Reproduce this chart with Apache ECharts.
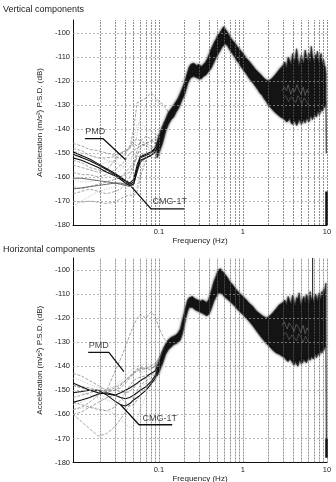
<!DOCTYPE html>
<html><head><meta charset="utf-8">
<script src="https://cdn.jsdelivr.net/npm/echarts@6/dist/echarts.min.js"></script>
<style>html,body{margin:0;padding:0;background:#fff}#c{width:336px;height:482px}</style>
</head><body><div id="c"></div>
<script>
// ---------- axes / ticks ----------
const xLabels = [0.1, 1, 10];
const xGrid = [0.02,0.03,0.04,0.05,0.06,0.07,0.08,0.09,0.1,0.2,0.3,0.4,0.5,0.6,0.7,0.8,0.9,1,2,3,4,5,6,7,8,9,10];
const yGrid = [-100,-110,-120,-130,-140,-150,-160,-170];

// ---------- dense band (all sensors), vertical ----------
const vBandF  = [0.095,0.1,0.11,0.12,0.13,0.14,0.15,0.16,0.17,0.18,0.19,0.2,0.21,0.22,0.23,0.24,0.26,0.28,0.3,0.32,0.34,0.36,0.38,0.4,0.42,0.44,0.46,0.48,0.5,0.53,0.56,0.59,0.62,0.65,0.7,0.75,0.8,0.85,0.9,0.95,1.0,1.1,1.2,1.3,1.4,1.5,1.6,1.7,1.8,1.9,2.0,2.2,2.4,2.6,2.8,
  3.0,3.15,3.3,3.45,3.6,3.75,3.9,4.05,4.2,4.35,4.5,4.65,4.8,4.95,5.1,5.3,5.5,5.7,5.9,6.1,6.3,6.5,6.7,6.9,7.1,7.3,7.5,7.7,7.9,8.1,8.3,8.5,8.7,8.9,9.1,9.3,9.5,9.7];
const vBandUp = [-146,-143,-139,-136,-133,-131.5,-130,-128.5,-127,-125,-123,-121,-118.5,-116,-114,-113,-112.5,-113.5,-113,-114,-113,-112,-110.5,-108.5,-106.5,-105,-103.5,-102.5,-101,-100,-98.5,-97.3,-98.5,-99.5,-101.5,-103,-104,-105.5,-106.5,-107.5,-108.5,-110.5,-112,-113.5,-115,-116,-117,-118,-119,-119.5,-120,-119,-117.5,-116,-114.5,
  -113.5,-112,-114.5,-110,-111.5,-113,-108.5,-112,-110.5,-106.5,-111,-113.5,-112,-109,-111.5,-112.5,-107,-110,-111.5,-108.5,-112,-105.5,-109.5,-111,-112.5,-109,-110,-107.5,-111.5,-112.5,-110,-108.5,-112,-113,-111,-113.5,-114,-117];
const vBandLo = [-152,-150,-146,-141,-138,-136,-135,-133,-131.5,-129.5,-127.5,-126,-123.5,-121,-119.5,-118.5,-118,-118.5,-119,-119,-118,-117.5,-116.5,-115.5,-114.5,-113,-111.5,-110,-109,-107.5,-106,-105,-104.5,-105,-107,-108.5,-110,-111.5,-112.5,-114,-115,-117,-119,-120.5,-122,-123.5,-125,-126,-127.5,-128.5,-130,-131.5,-133,-134,-135,
  -135.5,-136,-137,-136.5,-135.5,-137.5,-138,-136.5,-137,-138.5,-137.5,-136,-136.5,-138,-137,-136,-137.5,-135.5,-136,-137,-135,-134.5,-136,-135,-133.5,-134.5,-135,-133,-132.5,-134,-133,-131.5,-132.5,-132,-130.5,-131,-130,-128.5];

// ---------- dense band, horizontal ----------
const hBandF  = [0.095,0.1,0.11,0.12,0.13,0.14,0.15,0.16,0.17,0.18,0.19,0.2,0.21,0.22,0.23,0.25,0.27,0.29,0.31,0.33,0.35,0.37,0.39,0.41,0.43,0.45,0.48,0.51,0.54,0.57,0.6,0.65,0.7,0.75,0.8,0.9,1.0,1.1,1.2,1.3,1.4,1.5,1.7,1.9,2.1,2.3,2.5,2.7,
  3.0,3.15,3.3,3.45,3.6,3.75,3.9,4.05,4.2,4.35,4.5,4.65,4.8,4.95,5.1,5.3,5.5,5.7,5.9,6.1,6.3,6.5,6.7,6.9,7.1,7.3,7.5,7.7,7.9,8.1,8.3,8.5,8.7,8.9,9.1,9.3,9.5,9.7];
const hBandUp = [-140,-138.5,-134,-131,-129,-128,-127.5,-127,-126,-124.5,-121,-118,-115,-112.5,-111.5,-111,-112,-112.5,-113,-112.5,-113,-113.5,-112.5,-110,-107.5,-105,-102.5,-100,-99.5,-100.5,-101.5,-103,-105,-106,-107.5,-109.5,-111,-112.5,-114,-115,-116.5,-117.5,-119,-120,-119,-117.5,-116,-114.5,
  -113.5,-112.5,-114.5,-111,-113,-114,-110.5,-113,-114.5,-111.5,-112,-109.5,-113.5,-114.5,-112.5,-111,-113.5,-110,-112,-114,-109,-112.5,-111.5,-113.5,-112.5,-110,-111.5,-113,-111,-109.5,-112,-111.5,-109,-110.5,-108,-109.5,-107.5,-105.5];
const hBandLo = [-144,-142.5,-139,-135,-133,-132,-131,-130.5,-130,-129,-126.5,-123,-119.5,-117,-115.5,-115.5,-116.5,-117,-117.5,-118,-118.5,-119,-118.5,-117,-115,-113,-111,-109.5,-109.5,-110,-111,-112,-113,-114,-115,-117,-118.5,-120,-121.5,-123,-124.5,-126,-128.5,-130.5,-132,-133.5,-134.5,-135,
  -136,-136.5,-137.5,-138,-137,-137.5,-138.5,-139.5,-138,-139,-140,-138,-137.5,-139,-138.5,-137,-138,-138.5,-137,-136.5,-137.5,-136,-136.5,-137,-135.5,-135,-136.5,-135,-134.5,-135.5,-134,-133.5,-134.5,-133,-133.5,-132.5,-132,-131.5];

// ---------- low-frequency individual curves ----------
const loF = [0.0095,0.012,0.015,0.019,0.024,0.03,0.035,0.04,0.045,0.05,0.055,0.06,0.07,0.08,0.09,0.1,0.115,0.13];

// vertical PMD (grey dashed)
const vPmdCurves = [
  [-146,-147,-148.5,-149,-150,-151,-150,-149,-148,-146,-147,-146,-147,-148,-147,-144,-138,-134],
  [-148,-149,-151,-152,-152,-151.5,-152,-150,-147,-145,-144,-145,-146,-145,-146,-143,-138,-134],
  [-151,-152,-153,-155,-154,-153,-152,-150,-148,-144,-138,-137.5,-139.5,-141,-142,-143,-139,-135],
  [-155,-156,-157,-158,-157,-153,-150,-149,-148,-140,-129,-128.5,-127,-125,-126.5,-128.5,-130,-133],
  [-158,-159,-159,-160,-159,-157,-155,-153,-150,-149,-148,-147,-146,-147,-148,-146,-139,-135],
  [-161,-162,-162,-161,-160,-159,-157,-155,-152,-151,-150,-149.5,-148,-149,-150,-147,-140,-135],
  [-164,-165,-164,-163,-162,-161,-160,-158,-156,-154,-152,-151,-150,-151.5,-152,-149,-141,-135],
  [-170,-170.5,-170,-170.5,-171,-170.5,-169,-168,-167.5,-168,-166,-160,-153,-150,-149,-146,-139,-134],
  [-172,-170,-168,-166,-165,-164,-163,-164,-166,-167,-164,-158,-151,-148,-147,-144,-138,-134],
  [-167,-166,-165,-166,-167,-166,-165,-163,-160,-156,-151,-148,-146,-145,-144,-142,-137,-134],
  [-153,-154,-156,-157,-158,-159,-160,-159,-158,-155,-149,-145,-143,-144,-146,-145,-139,-134],
  [-149,-150,-151,-152,-153,-154,-155,-156,-154,-150,-142,-135,-130,-128,-127.5,-129,-131,-133]
];
// vertical CMG-1T (black)
const vCmgCurves = [
  [-150.5,-151.8,-153.2,-155,-157,-159,-160.5,-161.8,-163,-162,-156.5,-152,-151,-150,-148.5,-145,-138.5,-134.5],
  [-149.5,-151,-152.5,-154.5,-156.5,-158.5,-160,-161.5,-162.5,-161,-155,-151.5,-150.5,-149.5,-148,-144,-138,-134],
  [-152,-153,-154.5,-156,-158,-159.5,-161,-162.5,-163.5,-163,-157.5,-153,-152,-151,-149.5,-146,-139,-135]
];
const vDarkCurves = [
  [-160.5,-160.5,-161,-161.5,-162,-162.5,-163,-163.5,-164,-163,-158,-154,-152,-151,-150,-146,-139,-135],
  [-165,-164.5,-164,-163.5,-163,-162.5,-162.5,-163,-163.5,-162.5,-157,-153.5,-152,-151,-150,-146,-139,-135]
];
// horizontal PMD (grey dashed)
const hPmdCurves = [
  [-148,-149,-150,-151,-150,-142,-137,-132,-127,-123,-120,-118.5,-120,-117.5,-119,-124,-128.5,-130],
  [-143,-144,-146,-148,-150,-150,-149,-147,-145,-143,-141.5,-141,-140.5,-140,-139,-137,-132,-129],
  [-145,-146,-147.5,-149,-149.5,-148,-146,-144,-142,-141,-140,-139.5,-139,-139.5,-139,-136.5,-132,-129],
  [-148,-148.5,-149,-150,-150.5,-150,-148,-146,-144,-142.5,-141,-140.5,-141,-141.5,-140,-137,-132,-129],
  [-153,-152,-151,-150,-150,-149,-147.5,-146,-144.5,-143,-142,-141.5,-141,-140.5,-140.5,-137.5,-132.5,-129.5],
  [-156,-155,-153,-151.5,-150,-148.5,-147,-145.5,-144,-143,-142,-142.5,-142,-141,-139.5,-136,-132,-129],
  [-158,-157,-155,-152,-150.5,-150,-150.5,-151,-150.5,-149,-147.5,-146,-145,-144,-142,-138,-132.5,-129.5],
  [-160,-163,-166,-169,-168,-165,-162,-159,-156,-153,-150,-148,-146,-145,-143,-139,-133,-130],
  [-158,-157.5,-157,-157.5,-158.5,-160,-162,-164,-165.5,-165,-162,-158,-152,-148,-145,-140,-133,-130],
  [-160,-159,-157,-155,-153,-152,-153,-155,-156.5,-156,-154,-152,-149,-147,-146,-142,-134,-130],
  [-155,-156,-157,-158,-158.5,-157,-154,-151,-148,-146,-145,-144.5,-144,-143,-142,-139,-133,-130],
  [-150,-151,-152,-153,-154,-155,-156,-156.5,-156,-154,-151,-149,-147,-146.5,-146,-142,-134,-130]
];
// horizontal CMG-1T (black)
const hCmgCurves = [
  [-151,-150.5,-150,-150,-152,-154.5,-156,-156.5,-155.5,-154,-153,-152,-150,-147.5,-145,-141,-134,-130],
  [-155,-154,-153,-151.5,-151,-152,-153,-153.5,-153,-152,-151,-150,-148.5,-146.5,-144,-140,-134,-130],
  [-147,-148.5,-150,-151,-151.5,-152,-151,-150,-149,-148,-147,-146,-144.5,-143,-142,-139,-133.5,-130]
];

// lighter traces inside the band
const vSpeck1 = [[2.9,-124],[3.1,-122.5],[3.3,-124],[3.45,-121.5],[3.7,-125.5],[3.9,-123],[4.1,-124.5],[4.4,-121.5],[4.6,-123.5],[4.9,-125.5],[5.2,-122.5],[5.5,-126],[5.8,-123.5],[6.0,-125]];
const vSpeck2 = [[3.0,-127],[3.2,-126],[3.5,-128.5],[3.75,-126.5],[3.95,-127.5],[4.25,-129],[4.5,-126],[4.75,-127.5],[5.0,-129.5],[5.35,-127],[5.7,-128.5],[6.0,-130]];
const hSpeck1 = [[2.9,-123],[3.1,-121.5],[3.35,-124.5],[3.55,-122],[3.8,-123.5],[4.05,-125.5],[4.3,-122.5],[4.6,-124],[4.85,-126],[5.2,-123],[5.5,-126.5],[5.8,-124],[6.0,-125]];
const hSpeck2 = [[3.0,-127],[3.25,-126],[3.55,-129],[3.8,-127],[4.05,-128],[4.35,-129.5],[4.6,-126.5],[4.9,-128],[5.2,-130],[5.55,-127.5],[6.0,-130]];

// drops near 10 Hz and spike
const vDrop1 = [[9.72,-128.5],[9.8,-150]];
const vDrop2 = [[9.86,-166],[9.86,-180]];
const hDrop1 = [[9.72,-131.5],[9.8,-170]];
const hDrop2 = [[9.86,-170],[9.86,-178]];
const hSpike = [[6.75,-95],[6.75,-114]];

// annotation leaders
const vPmdLeader = [[0.01315,-144],[0.0217,-144],[0.0402,-152.8]];
const vCmgLeader = [[0.047,-164],[0.0805,-173.3],[0.2,-173.3]];
const hPmdLeader = [[0.0144,-134.2],[0.0254,-134.2],[0.0383,-142.2]];
const hCmgLeader = [[0.035,-156],[0.058,-164.3],[0.144,-164.3]];

// ---------- build ----------
const FONT = 'Liberation Sans, Arial, sans-serif';
const TXT = '#222';
const zip = (f, v) => f.map((x, i) => [x, v[i]]);

function line(gi, data, color, width, type, z) {
  return {type:'line', xAxisIndex:gi, yAxisIndex:gi, data, symbol:'none', showSymbol:false,
    lineStyle:{color, width, type: type || 'solid'}, silent:true, animation:false, z: z || 3, clip:true};
}
function band(gi, f, up, lo) {
  return {type:'custom', xAxisIndex:gi, yAxisIndex:gi, data:[[f[0], up[0]]], silent:true, animation:false, z:4,
    renderItem: (params, api) => {
      const pts = [];
      for (let i = 0; i < f.length; i++) pts.push(api.coord([f[i], up[i]]));
      for (let i = f.length - 1; i >= 0; i--) pts.push(api.coord([f[i], lo[i]]));
      return {type:'polygon', shape:{points:pts},
        style:{fill:'#141414', stroke:'#333', lineWidth:0.8, shadowBlur:2.5, shadowColor:'rgba(0,0,0,0.75)'}};
    }};
}
function gridLines(gi) {
  return {type:'line', xAxisIndex:gi, yAxisIndex:gi, data:[], silent:true, animation:false, z:1,
    markLine:{silent:true, symbol:['none','none'], label:{show:false}, animation:false,
      emphasis:{disabled:true},
      lineStyle:{color:'#5e5e5e', width:0.7, type:[2,1]},
      data: xGrid.map(v => ({xAxis:v})).concat(yGrid.map(v => ({yAxis:v, lineStyle:{color:'#9a9a9a', width:0.7, type:[2,2]}})))}};
}
function textAt(gi, pt, text, off) {
  return {type:'scatter', xAxisIndex:gi, yAxisIndex:gi, data:[pt], symbolSize:1, silent:true, animation:false, z:10,
    itemStyle:{color:'rgba(0,0,0,0)'},
    label:{show:true, formatter:text, position:off, align:'left', verticalAlign:'bottom',
      fontFamily:FONT, fontSize:9, color:'#111'}};
}
function axes(gi) {
  return {
    x: {type:'log', gridIndex:gi, min:0.0095, max:10, logBase:10,
      name:'Frequency (Hz)', nameLocation:'middle', nameGap:11,
      nameTextStyle:{fontFamily:FONT, fontSize:8, color:TXT},
      axisLine:{show:true, lineStyle:{color:'#111', width:1}},
      axisTick:{show:false}, splitLine:{show:false}, minorSplitLine:{show:false},
      axisLabel:{margin:3, fontFamily:FONT, fontSize:7.5, color:TXT,
        formatter: v => { const m = xLabels.find(l => Math.abs(l - v) / l < 1e-6); return m === undefined ? '' : String(m); }}},
    y: {type:'value', gridIndex:gi, min:-180, max: gi === 0 ? -94.5 : -95, interval:10,
      name:'Acceleration (m/s²) P.S.D. (dB)', nameLocation:'middle', nameGap:26,
      nameTextStyle:{fontFamily:FONT, fontSize:8, color:TXT},
      axisLine:{show:true, lineStyle:{color:'#111', width:1}},
      axisTick:{show:false}, splitLine:{show:false},
      axisLabel:{margin:3, fontFamily:FONT, fontSize:7.5, color:TXT,
        formatter: v => (Math.round(v) === v && v % 10 === 0) ? String(v) : ''}}
  };
}

const series = [];
function panel(gi, bf, bu, bl, pmd, cmg, dark, s1, s2, d1, d2, pl, cl, plOff, clOff) {
  series.push(gridLines(gi));
  pmd.forEach((c, k) => series.push(line(gi, zip(loF, c), k % 3 === 2 ? '#a5a5a5' : '#7c7c7c', 0.7, k % 3 === 2 ? [1,1.5] : [3,1.5], 2)));
  (dark || []).forEach(c => series.push(line(gi, zip(loF, c), '#444', 0.8, 'solid', 3)));
  cmg.forEach(c => series.push(line(gi, zip(loF, c), '#111', 1.1, 'solid', 3)));
  series.push(band(gi, bf, bu, bl));
  series.push(line(gi, s1, '#7a7a7a', 0.6, 'solid', 5));
  series.push(line(gi, s2, '#6a6a6a', 0.6, 'solid', 5));
  series.push(line(gi, d1, '#111', 1, 'solid', 5));
  series.push(line(gi, d2, '#111', 2.5, 'solid', 5));
  series.push(line(gi, pl, '#111', 1.3, 'solid', 8));
  series.push(line(gi, cl, '#111', 1.3, 'solid', 8));
  series.push(textAt(gi, pl[0], 'PMD', plOff));
  series.push(textAt(gi, cl[1], 'CMG-1T', clOff));
}
panel(0, vBandF, vBandUp, vBandLo, vPmdCurves, vCmgCurves, vDarkCurves, vSpeck1, vSpeck2, vDrop1, vDrop2, vPmdLeader, vCmgLeader, [1,-2], [2,-2]);
panel(1, hBandF, hBandUp, hBandLo, hPmdCurves, hCmgCurves, null, hSpeck1, hSpeck2, hDrop1, hDrop2, hPmdLeader, hCmgLeader, [1,-2], [4,-1]);
series.push(line(1, hSpike, '#111', 1, 'solid', 6));

const a0 = axes(0), a1 = axes(1);
const chart = echarts.init(document.getElementById('c'), null, {renderer:'canvas'});
chart.setOption({
  animation:false,
  backgroundColor:'#fff',
  textStyle:{fontFamily:FONT},
  title:[
    {text:'Vertical components', left:3, top:5, padding:0, textStyle:{fontFamily:FONT, fontSize:9, fontWeight:'normal', color:TXT}},
    {text:'Horizontal components', left:3, top:245, padding:0, textStyle:{fontFamily:FONT, fontSize:9, fontWeight:'normal', color:TXT}}
  ],
  grid:[
    {left:73, right:9, top:20, height:205, outerBoundsMode:'none'},
    {left:73, right:9, top:258, height:204.5, outerBoundsMode:'none'}
  ],
  xAxis:[a0.x, a1.x],
  yAxis:[a0.y, a1.y],
  series
});
</script>
</body></html>
